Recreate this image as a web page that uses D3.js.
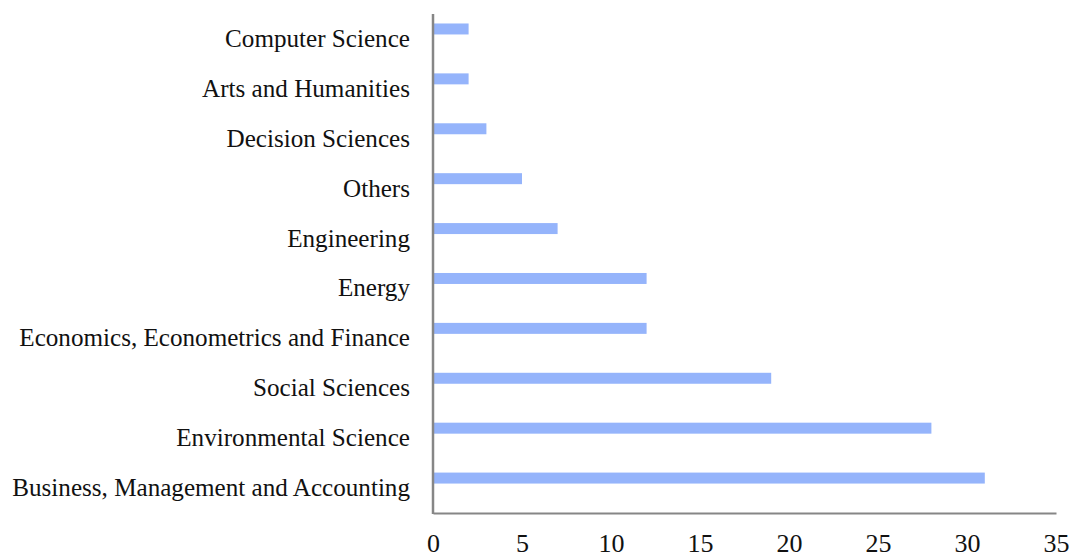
<!DOCTYPE html>
<html>
<head>
<meta charset="utf-8">
<script src="https://cdn.jsdelivr.net/npm/d3@7"></script>
<style>
  html, body { margin: 0; padding: 0; background: #fff; }
  svg { display: block; }
</style>
</head>
<body>
<svg id="chart" width="1074" height="558"></svg>
<script>
const categories = [
  "Computer Science",
  "Arts and Humanities",
  "Decision Sciences",
  "Others",
  "Engineering",
  "Energy",
  "Economics, Econometrics and Finance",
  "Social Sciences",
  "Environmental Science",
  "Business, Management and Accounting"
];
const values = [2, 2, 3, 5, 7, 12, 12, 19, 28, 31];
const xTicks = [0, 5, 10, 15, 20, 25, 30, 35];

const FONT = "'Liberation Serif', 'DejaVu Serif', serif";
const svg = d3.select("#chart");
const axisX = 433, plotTop = 14, plotBottom = 513, plotRight = 1056;

const x = d3.scaleLinear().domain([0, 35]).range([axisX, plotRight]);
const y = d3.scaleBand().domain(categories).range([plotTop, plotBottom]).padding(0);
const step = y.step();

// bars
svg.append("g").selectAll("rect")
  .data(categories)
  .join("rect")
  .attr("x", x(0) + 1)
  .attr("y", d => y(d) + step * 0.19)
  .attr("width", (d, i) => x(values[i]) - x(0) - 1)
  .attr("height", step * 0.22)
  .attr("fill", "#95b4fb");

// x axis
const gx = svg.append("g")
  .attr("transform", `translate(0,${plotBottom})`)
  .call(d3.axisBottom(x).tickValues(xTicks).tickSize(0).tickPadding(20.5).tickFormat(d3.format("d")));
gx.select(".domain").attr("stroke", "#868686").attr("stroke-width", 2);
gx.selectAll("text").attr("font-family", FONT).attr("font-size", 26).attr("fill", "#111");

// y axis
const gy = svg.append("g")
  .attr("transform", `translate(${axisX},0)`)
  .call(d3.axisLeft(y).tickSize(0).tickPadding(23));
gy.select(".domain").remove();
gy.append("line").attr("x1", 0).attr("x2", 0).attr("y1", plotTop).attr("y2", plotBottom + 1)
  .attr("stroke", "#868686").attr("stroke-width", 2.5);
const labels = gy.selectAll(".tick text")
  .attr("font-family", FONT).attr("font-size", 20).attr("fill", "#111");

// fit label size so the longest label spans like the reference (~398px)
let maxW = 0;
labels.each(function () { maxW = Math.max(maxW, this.getComputedTextLength()); });
const fs = 20 * 398 / maxW;
labels.attr("font-size", fs);
</script>
</body>
</html>
